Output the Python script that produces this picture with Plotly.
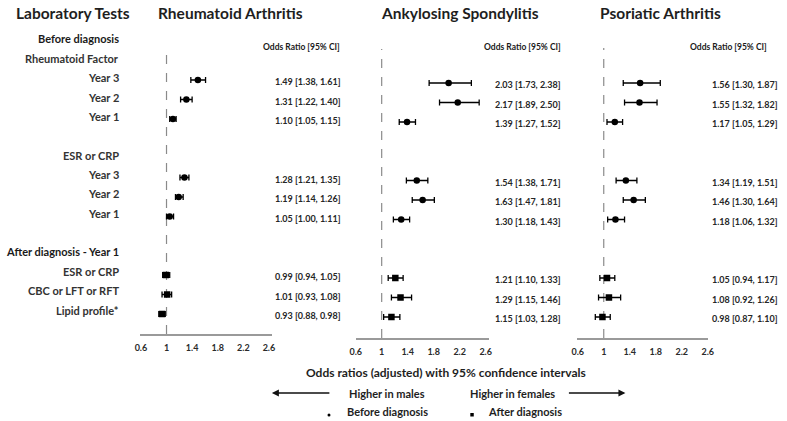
import plotly.graph_objects as go

# ---------------- data ----------------
row_labels = ["Before diagnosis", "Rheumatoid Factor", "Year 3", "Year 2", "Year 1", "",
              "ESR or CRP", "Year 3", "Year 2", "Year 1", "",
              "After diagnosis - Year 1", "ESR or CRP", "CBC or LFT or RFT", "Lipid profile*"]
header_rows = [0, 11]
data_rows = [2, 3, 4, 7, 8, 9, 12, 13, 14]
timing = ["Before", "Before", "Before", "Before", "Before", "Before", "After", "After", "After"]

diseases = ["Rheumatoid Arthritis", "Ankylosing Spondylitis", "Psoriatic Arthritis"]

ra_or = [1.49, 1.31, 1.10, 1.28, 1.19, 1.05, 0.99, 1.01, 0.93]
ra_lo = [1.38, 1.22, 1.05, 1.21, 1.14, 1.00, 0.94, 0.93, 0.88]
ra_hi = [1.61, 1.40, 1.15, 1.35, 1.26, 1.11, 1.05, 1.08, 0.98]

as_or = [2.03, 2.17, 1.39, 1.54, 1.63, 1.30, 1.21, 1.29, 1.15]
as_lo = [1.73, 1.89, 1.27, 1.38, 1.47, 1.18, 1.10, 1.15, 1.03]
as_hi = [2.38, 2.50, 1.52, 1.71, 1.81, 1.43, 1.33, 1.46, 1.28]

psa_or = [1.56, 1.55, 1.17, 1.34, 1.46, 1.18, 1.05, 1.08, 0.98]
psa_lo = [1.30, 1.32, 1.05, 1.19, 1.30, 1.06, 0.94, 0.92, 0.87]
psa_hi = [1.87, 1.82, 1.29, 1.51, 1.64, 1.32, 1.17, 1.26, 1.10]

tick_vals = [0.6, 1, 1.4, 1.8, 2.2, 2.6]
tick_text = ["0.6", "1", "1.4", "1.8", "2.2", "2.6"]

series = [(ra_or, ra_lo, ra_hi), (as_or, as_lo, as_hi), (psa_or, psa_lo, psa_hi)]

# ---------------- layout geometry (pixels) ----------------
W, H = 787, 421
FONT = "Lato"

panels = [
    dict(x0=136, x1=270, one=163, ppu=65, row0=41, step=19.5, base=334, top=30,
         title_x=228, hdr_right=341, val_right=342, dash_top=46),
    dict(x0=355, x1=490, one=381.5, ppu=66, row0=44, step=19.5, base=338, top=30,
         title_x=461, hdr_right=566, val_right=566, dash_top=49),
    dict(x0=580, x1=713, one=607, ppu=66, row0=44, step=19.5, base=338, top=30,
         title_x=665, hdr_right=775, val_right=786, dash_top=48),
]


def px(p):
    return p / W


def py(p):
    return 1 - p / H


fig = go.Figure()
annotations = []
shapes = []
layout_axes = {}

for i, (pan, (o, lo, hi)) in enumerate(zip(panels, series)):
    n = "" if i == 0 else str(i + 1)
    xa, ya = "x" + n, "y" + n
    before_idx = [k for k, t in enumerate(timing) if t == "Before"]
    after_idx = [k for k, t in enumerate(timing) if t == "After"]
    for idx, sym in ((before_idx, "circle"), (after_idx, "square")):
        fig.add_trace(go.Scatter(
            x=[o[k] for k in idx], y=[data_rows[k] for k in idx],
            mode="markers", xaxis=xa, yaxis=ya, showlegend=False,
            marker=dict(symbol=sym, size=6.5, color="black"),
            error_x=dict(type="data", symmetric=False,
                         array=[hi[k] - o[k] for k in idx],
                         arrayminus=[o[k] - lo[k] for k in idx],
                         color="black", thickness=1.3, width=3),
        ))
    xr = [1 - (pan["one"] - pan["x0"]) / pan["ppu"], 1 + (pan["x1"] - pan["one"]) / pan["ppu"]]
    yr = [(pan["base"] - pan["row0"]) / pan["step"], (pan["top"] - pan["row0"]) / pan["step"]]
    layout_axes["xaxis" + n] = dict(
        domain=[px(pan["x0"]), px(pan["x1"])], range=xr, anchor=ya,
        showgrid=False, zeroline=False, showline=True, linecolor="#9a9a9a", linewidth=1.5,
        tickvals=tick_vals, ticktext=tick_text, ticks="outside", ticklen=5,
        tickcolor="rgba(0,0,0,0)",
        tickfont=dict(family=FONT, size=9, color="#2a2a2a", weight="bold"),
        fixedrange=True,
    )
    layout_axes["yaxis" + n] = dict(
        domain=[py(pan["base"]), py(pan["top"])], range=yr, anchor=xa,
        visible=False, fixedrange=True,
    )
    # reference line at OR = 1
    shapes.append(dict(type="line", xref=xa, yref="paper", x0=1, x1=1,
                       y0=py(pan["base"]), y1=py(pan["dash_top"]),
                       line=dict(color="#8a8a8a", width=1.2, dash="dash"), layer="below"))
    # panel title
    annotations.append(dict(text=diseases[i], xref="paper", yref="paper",
                            x=px(pan["title_x"]), y=py(13), xanchor="center", yanchor="middle",
                            showarrow=False,
                            font=dict(family=FONT, size=15.5, color="#1e1e1e", weight="bold")))
    # column header
    annotations.append(dict(text="Odds Ratio [95% CI]", xref="paper", yref="paper",
                            x=px(pan["hdr_right"]), y=py(47), xanchor="right", yanchor="middle",
                            showarrow=False,
                            font=dict(family=FONT, size=8.5, color="#1a1a1a", weight="bold")))
    # value texts
    for k, r in enumerate(data_rows):
        annotations.append(dict(text=f"{o[k]:.2f} [{lo[k]:.2f}, {hi[k]:.2f}]",
                                xref="paper", yref=ya, x=px(pan["val_right"]), y=r + 0.08,
                                xanchor="right", yanchor="middle", showarrow=False,
                                font=dict(family=FONT, size=9, color="#262626", weight="bold")))

# left column
annotations.append(dict(text="Laboratory Tests", xref="paper", yref="paper",
                        x=px(8), y=py(13), xanchor="left", yanchor="middle", showarrow=False,
                        font=dict(family=FONT, size=15.5, color="#1e1e1e", weight="bold")))
for r, lab in enumerate(row_labels):
    if not lab:
        continue
    hdr = r in header_rows
    annotations.append(dict(text=lab, xref="paper", yref="paper",
                            x=px(117), y=py(39 + 19.36 * r), xanchor="right", yanchor="middle",
                            showarrow=False,
                            font=dict(family=FONT, size=11, color="#1a1a1a" if hdr else "#333333",
                                      weight="bold")))

# bottom texts
annotations.append(dict(text="Odds ratios (adjusted) with 95% confidence intervals",
                        xref="paper", yref="paper", x=px(447), y=py(372),
                        xanchor="center", yanchor="middle", showarrow=False,
                        font=dict(family=FONT, size=12, color="#1e1e1e", weight="bold")))
annotations.append(dict(text="Higher in males", xref="paper", yref="paper", x=px(387), y=py(393),
                        xanchor="center", yanchor="middle", showarrow=False,
                        font=dict(family=FONT, size=11, color="#1e1e1e", weight="bold")))
annotations.append(dict(text="Higher in females", xref="paper", yref="paper", x=px(514), y=py(393),
                        xanchor="center", yanchor="middle", showarrow=False,
                        font=dict(family=FONT, size=11, color="#1e1e1e", weight="bold")))
annotations.append(dict(text="Before diagnosis", xref="paper", yref="paper", x=px(344), y=py(411),
                        xanchor="left", yanchor="middle", showarrow=False,
                        font=dict(family=FONT, size=11, color="#1e1e1e", weight="bold")))
annotations.append(dict(text="After diagnosis", xref="paper", yref="paper", x=px(487), y=py(411),
                        xanchor="left", yanchor="middle", showarrow=False,
                        font=dict(family=FONT, size=11, color="#1e1e1e", weight="bold")))
# arrows
annotations.append(dict(text="", xref="paper", yref="paper", x=px(270), y=py(393),
                        ax=59, ay=0, showarrow=True, arrowhead=2, arrowsize=1,
                        arrowwidth=1.4, arrowcolor="#111"))
annotations.append(dict(text="", xref="paper", yref="paper", x=px(629), y=py(393),
                        ax=-58, ay=0, showarrow=True, arrowhead=2, arrowsize=1,
                        arrowwidth=1.4, arrowcolor="#111"))
# legend symbols
shapes.append(dict(type="circle", xref="paper", yref="paper",
                   x0=px(326.5), x1=px(329.5), y0=py(416.5), y1=py(413.5),
                   fillcolor="black", line=dict(width=0)))
shapes.append(dict(type="rect", xref="paper", yref="paper",
                   x0=px(471.5), x1=px(475), y0=py(416.5), y1=py(413),
                   fillcolor="black", line=dict(width=0)))

fig.update_layout(
    width=W, height=H, margin=dict(l=0, r=0, t=0, b=0),
    paper_bgcolor="white", plot_bgcolor="white", hovermode=False,
    annotations=annotations, shapes=shapes, **layout_axes,
)

fig.write_html("out.html", config={"displayModeBar": False, "staticPlot": True},
               post_script="document.body.style.margin='0';document.body.style.overflow='hidden';")
